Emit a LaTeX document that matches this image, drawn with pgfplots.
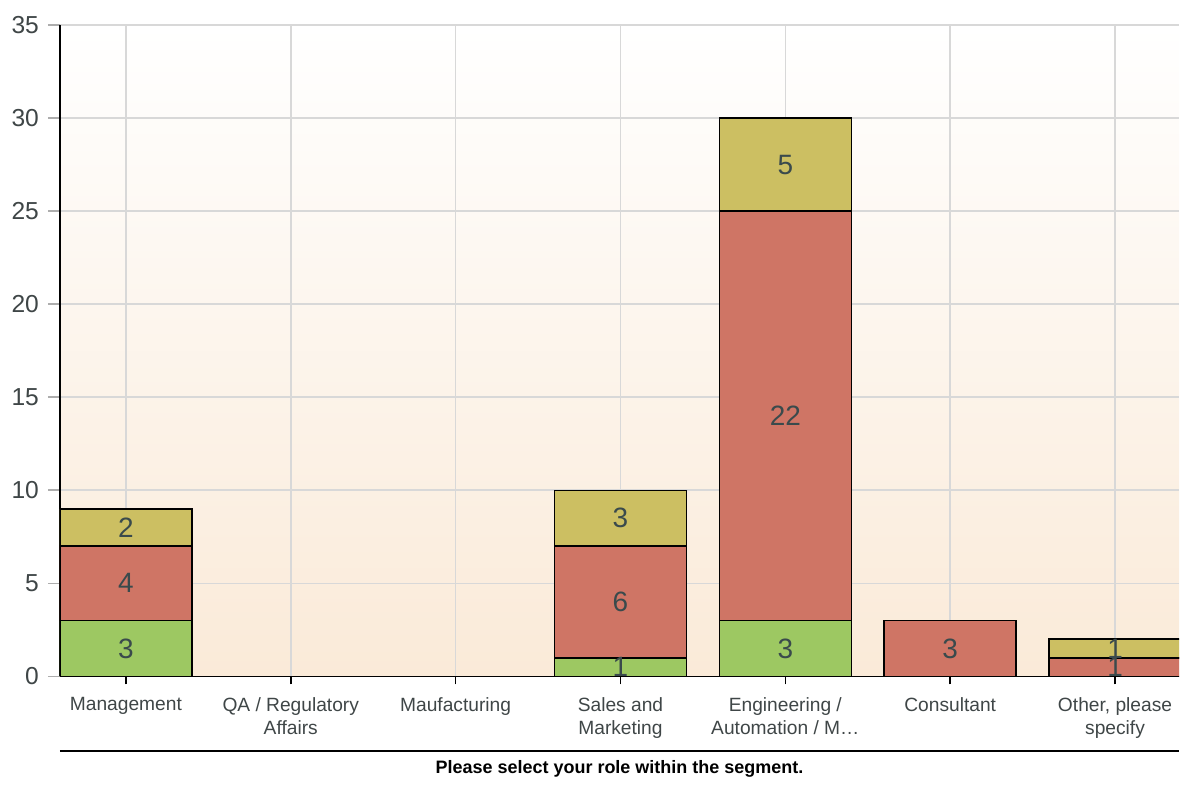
\documentclass[border=0pt]{standalone}
\usepackage{fontspec}
\setmainfont{Liberation Sans}
\usepackage{pgfplots}
\pgfplotsset{compat=1.18}
\definecolor{bgbot}{HTML}{FAEAD8}
\definecolor{gridc}{HTML}{D8D8D8}
\definecolor{txt}{HTML}{3F4647}
\definecolor{valc}{HTML}{3A4A4C}
\definecolor{gmid}{HTML}{9DC862}
\definecolor{rmid}{HTML}{CF7565}
\definecolor{ymid}{HTML}{CCBF62}
\begin{document}
\begin{tikzpicture}
\begin{axis}[
  scale only axis,
  width=560pt, height=326pt,
  anchor=south west, at={(0,0)},
  ybar stacked,
  bar width=0.8,
  xmin=-0.4, xmax=6.388,
  ymin=0, ymax=35,
  ytick={0,5,...,35},
  xtick=data,
  xticklabels={Management,{QA / Regulatory\\Affairs},Maufacturing,{Sales and\\Marketing},{Engineering /\\Automation / M\ldots},Consultant,{Other, please\\specify}},
  xticklabel style={align=center, font=\fontsize{9.6}{11.6}\selectfont, text=txt, yshift=-1pt},
  yticklabel style={font=\fontsize{12.3}{14}\selectfont, text=txt, xshift=-1pt},
  /pgf/number format/assume math mode=true,
  axis x line*=bottom, axis y line*=left,
  axis line style={black, line width=0.9pt},
  tick align=outside,
  major tick length=6pt,
  xtick style={black, line width=0.8pt, /pgfplots/major tick length=4pt},
  ytick style={gridc!80!black, line width=0.8pt},
  grid=major,
  major grid style={gridc, line width=0.8pt},
  axis background/.style={top color=white, bottom color=bgbot},
  nodes near coords={\pgfmathfloatifflags{\pgfplotspointmeta}{0}{}{\pgfmathprintnumber{\pgfplotspointmeta}}},
  every node near coord/.append style={anchor=center, font=\fontsize{14}{16}\selectfont, text=valc},
  after end axis/.code={
    \draw[black, line width=1pt] (axis description cs:0,0) ++(0,-37.5pt) -- ++(560pt,0);
    \node[font=\bfseries\fontsize{9}{11}\selectfont, text=black] at ([yshift=-46.5pt]axis description cs:0.5,0) {Please select your role within the segment.};
  },
]
\addplot[fill=gmid, draw=black, line width=0.75pt] coordinates {(0,3) (1,0) (2,0) (3,1) (4,3) (5,0) (6,0)};
\addplot[fill=rmid, draw=black, line width=0.75pt] coordinates {(0,4) (1,0) (2,0) (3,6) (4,22) (5,3) (6,1)};
\addplot[fill=ymid, draw=black, line width=0.75pt] coordinates {(0,2) (1,0) (2,0) (3,3) (4,5) (5,0) (6,1)};
\end{axis}
\path[use as bounding box] (-30pt,-51.5pt) rectangle (560pt,338.5pt);
\end{tikzpicture}
\end{document}
